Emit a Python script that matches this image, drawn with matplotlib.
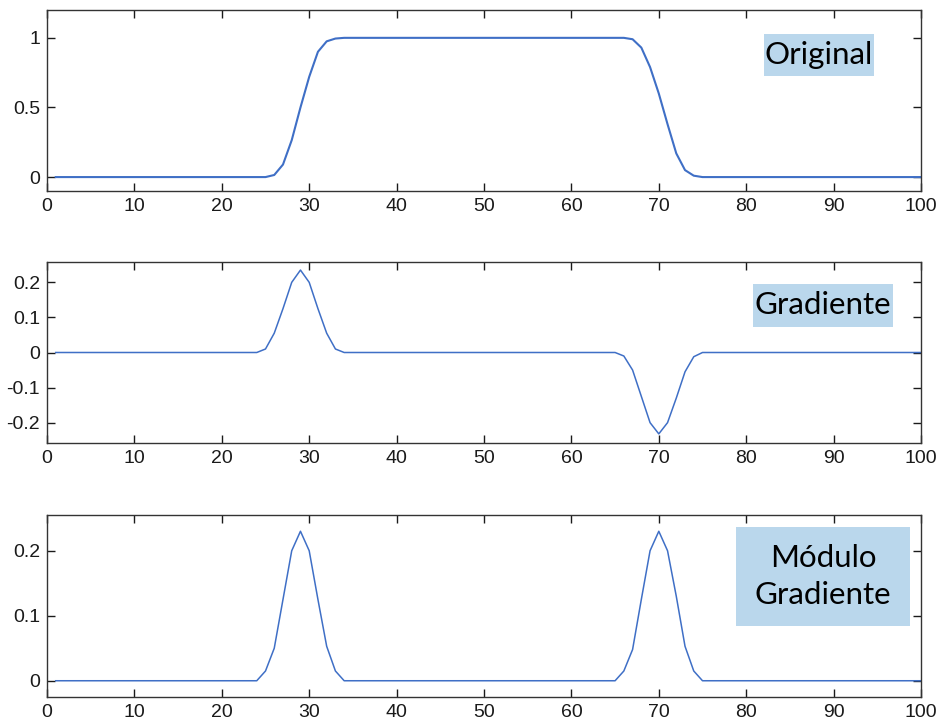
import matplotlib
matplotlib.use('Agg')
import matplotlib.pyplot as plt
from matplotlib.patches import Rectangle

# ---------------- data ----------------
# original profile: knots, straight lines in between (samples run 1..100)
x_orig = [1, 25, 26, 27, 28, 29, 30, 31, 32, 33, 34,
          66, 67, 68, 69, 70, 71, 72, 73, 74, 75, 100]
y_orig = [0, 0, 0.015, 0.09, 0.265, 0.5, 0.72, 0.9, 0.975, 0.995, 1,
          1, 0.99, 0.93, 0.79, 0.6, 0.38, 0.17, 0.05, 0.01, 0, 0]

# gradient
x_grad = [1, 24, 25, 26, 27, 28, 29, 30, 31, 32, 33, 34,
          65, 66, 67, 68, 69, 70, 71, 72, 73, 74, 75, 100]
y_grad = [0, 0, 0.01, 0.055, 0.125, 0.2, 0.235, 0.2, 0.125, 0.055, 0.01, 0,
          0, -0.01, -0.05, -0.125, -0.2, -0.232, -0.2, -0.13, -0.055, -0.012, 0, 0]

# gradient magnitude
x_mod = [1, 24, 25, 26, 27, 28, 29, 30, 31, 32, 33, 34,
         65, 66, 67, 68, 69, 70, 71, 72, 73, 74, 75, 100]
y_mod = [0, 0, 0.015, 0.05, 0.125, 0.2, 0.23, 0.2, 0.125, 0.053, 0.015, 0,
         0, 0.015, 0.048, 0.125, 0.2, 0.23, 0.2, 0.13, 0.053, 0.015, 0, 0]

x_ticks = [0, 10, 20, 30, 40, 50, 60, 70, 80, 90, 100]
labels = ['Original', 'Gradiente', 'Módulo\nGradiente']

# ---------------- figure ----------------
W, H = 940, 725
fig = plt.figure(figsize=(W / 100, H / 100), dpi=100)
plt.rcParams['font.family'] = ['Liberation Sans', 'DejaVu Sans']

line_col = '#3F6FC6'
box_col = '#BAD7EC'


def px_rect(x0, y0, x1, y1):
    # pixel box (top-left origin) -> figure fraction
    return [x0 / W, 1 - y1 / H, (x1 - x0) / W, (y1 - y0) / H]


def style(ax, yticks, ylim):
    ax.set_xlim(0, 100)
    ax.set_ylim(*ylim)
    ax.set_xticks(x_ticks)
    ax.set_yticks(yticks)
    ax.set_yticklabels([('%g' % t) for t in yticks])
    ax.tick_params(direction='in', length=6, width=1, labelsize=14,
                   top=True, right=True, pad=5, colors='#1a1a1a')
    for s in ax.spines.values():
        s.set_linewidth(1)
        s.set_color('#333333')


# ---- Original ----
ax1 = fig.add_axes(px_rect(47, 10, 921, 191))
ax1.plot(x_orig, y_orig, color=line_col, lw=1.5)
style(ax1, [0, 0.5, 1], (-0.1, 1.2))

# ---- Gradiente ----
ax2 = fig.add_axes(px_rect(47, 262, 921, 443))
ax2.plot(x_grad, y_grad, color=line_col, lw=1.1)
style(ax2, [-0.2, -0.1, 0, 0.1, 0.2], (-0.258, 0.258))

# ---- Modulo gradiente ----
ax3 = fig.add_axes(px_rect(47, 515, 921, 697))
ax3.plot(x_mod, y_mod, color=line_col, lw=1.1)
style(ax3, [0, 0.1, 0.2], (-0.025, 0.255))

# ---- label boxes ----
boxes = [(764, 34, 874, 76), (753, 284, 893, 327), (736, 527, 910, 626)]
for (x0, y0, x1, y1), txt in zip(boxes, labels):
    fig.patches.append(Rectangle((x0 / W, 1 - y1 / H), (x1 - x0) / W, (y1 - y0) / H,
                                 transform=fig.transFigure, facecolor=box_col,
                                 edgecolor='none', zorder=5))
    fig.text((x0 + x1) / 2 / W, 1 - (y0 + y1) / 2 / H, txt, ha='center', va='center',
             fontsize=22.5, family=['Lato', 'DejaVu Sans'], color='black',
             linespacing=1.35, zorder=6)

fig.savefig('out.png', dpi=100)
